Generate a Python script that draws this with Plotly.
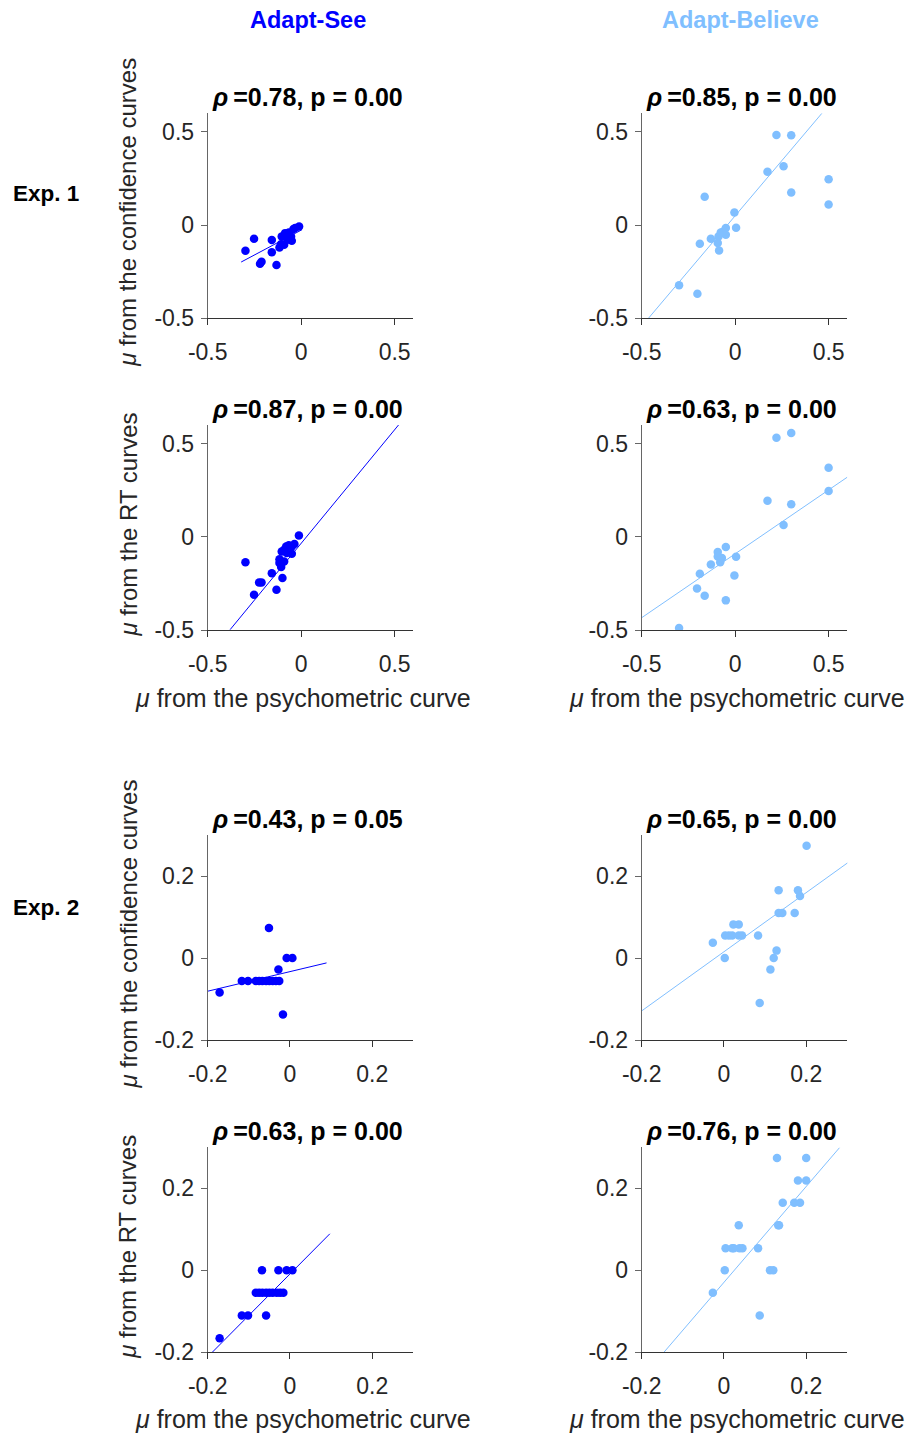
import plotly.graph_objects as go

W, H = 920, 1433
PAGE_OFFSET = 8  # the page body margin shifts the figure by 8 px

# ---------------- data ----------------
# Exp. 1, Adapt-See, confidence
e1_see_conf_x = [-0.298, -0.252, -0.220, -0.212, -0.157, -0.157, -0.132, -0.116, -0.107, -0.104,
                 -0.091, -0.086, -0.080, -0.073, -0.066, -0.054, -0.050, -0.041, -0.032, -0.011]
e1_see_conf_y = [-0.137, -0.073, -0.207, -0.196, -0.080, -0.145, -0.214, -0.120, -0.102, -0.061,
                 -0.105, -0.043, -0.061, -0.079, -0.039, -0.061, -0.084, -0.021, -0.016, -0.007]
# Exp. 1, Adapt-Believe, confidence
e1_bel_conf_x = [-0.300, -0.202, -0.189, -0.163, -0.130, -0.093, -0.086, -0.089, -0.077, -0.063,
                 -0.050, -0.050, -0.004, 0.005, 0.173, 0.221, 0.259, 0.300, 0.300, 0.500, 0.500]
e1_bel_conf_y = [-0.323, -0.368, -0.100, 0.152, -0.073, -0.096, -0.136, -0.061, -0.039, -0.034,
                 -0.016, -0.052, 0.068, -0.014, 0.286, 0.484, 0.316, 0.482, 0.175, 0.246, 0.111]
# Exp. 1, Adapt-See, RT
e1_see_rt_x = [-0.298, -0.252, -0.225, -0.212, -0.157, -0.132, -0.116, -0.116, -0.107, -0.100,
               -0.104, -0.091, -0.091, -0.080, -0.077, -0.066, -0.050, -0.050, -0.036, -0.012]
e1_see_rt_y = [-0.137, -0.311, -0.245, -0.245, -0.195, -0.284, -0.120, -0.141, -0.162, -0.221,
               -0.079, -0.132, -0.070, -0.052, -0.087, -0.045, -0.052, -0.091, -0.039, 0.007]
# Exp. 1, Adapt-Believe, RT
e1_bel_rt_x = [-0.300, -0.204, -0.189, -0.163, -0.130, -0.093, -0.093, -0.080, -0.071, -0.050,
               -0.050, -0.004, 0.005, 0.173, 0.221, 0.259, 0.300, 0.300, 0.500, 0.500]
e1_bel_rt_y = [-0.489, -0.277, -0.198, -0.316, -0.148, -0.082, -0.105, -0.136, -0.114, -0.055,
               -0.341, -0.207, -0.107, 0.193, 0.532, 0.063, 0.557, 0.175, 0.370, 0.246]
# Exp. 2, Adapt-See, confidence
e2_see_conf_x = [-0.171, -0.117, -0.102, -0.083, -0.075, -0.067, -0.058, -0.050, -0.042, -0.034,
                 -0.026, -0.051, -0.028, -0.017, -0.008, 0.006]
e2_see_conf_y = [-0.084, -0.056, -0.056, -0.056, -0.056, -0.056, -0.056, -0.056, -0.056, -0.056,
                 -0.056, 0.073, -0.028, -0.138, 0.000, 0.000]
# Exp. 2, Adapt-Believe, confidence
e2_bel_conf_x = [-0.027, 0.002, 0.003, 0.012, 0.020, 0.023, 0.036, 0.036, 0.044, 0.083, 0.087,
                 0.113, 0.121, 0.128, 0.133, 0.133, 0.142, 0.172, 0.180, 0.185, 0.201]
e2_bel_conf_y = [0.037, 0.000, 0.055, 0.055, 0.055, 0.082, 0.082, 0.055, 0.055, 0.055, -0.110,
                 -0.028, 0.000, 0.018, 0.165, 0.110, 0.110, 0.110, 0.165, 0.151, 0.274]
# Exp. 2, Adapt-See, RT
e2_see_rt_x = [-0.171, -0.117, -0.102, -0.083, -0.075, -0.067, -0.068, -0.058, -0.058, -0.050,
               -0.042, -0.032, -0.028, -0.024, -0.016, -0.008, 0.006]
e2_see_rt_y = [-0.166, -0.110, -0.110, -0.055, -0.055, -0.055, 0.000, -0.055, -0.110, -0.055,
               -0.055, -0.055, 0.000, -0.055, -0.055, 0.000, 0.000]
# Exp. 2, Adapt-Believe, RT
e2_bel_rt_x = [-0.027, 0.002, 0.004, 0.020, 0.024, 0.036, 0.038, 0.045, 0.083, 0.087, 0.112,
               0.120, 0.129, 0.132, 0.134, 0.143, 0.171, 0.180, 0.185, 0.200, 0.200]
e2_bel_rt_y = [-0.055, 0.000, 0.054, 0.054, 0.054, 0.110, 0.054, 0.054, 0.054, -0.110, 0.000,
               0.000, 0.274, 0.110, 0.110, 0.165, 0.165, 0.219, 0.165, 0.274, 0.219]

# fitted regression-line end points (as drawn)
fit_x = [[-0.321, 0.004], [-0.464, 0.464], [-0.380, 0.521], [-0.500, 0.600],
         [-0.200, 0.089], [-0.200, 0.302], [-0.189, 0.097], [-0.146, 0.281]]
fit_y = [[-0.198, -0.025], [-0.500, 0.600], [-0.498, 0.600], [-0.434, 0.320],
         [-0.081, -0.012], [-0.129, 0.233], [-0.200, 0.089], [-0.200, 0.299]]

rho_vals = ["0.78", "0.85", "0.87", "0.63", "0.43", "0.65", "0.63", "0.76"]
p_vals = ["0.00", "0.00", "0.00", "0.00", "0.05", "0.00", "0.00", "0.00"]

column_names = ["Adapt-See", "Adapt-Believe"]
row_names = ["Exp. 1", "Exp. 2"]
ylabels = ["from the confidence curves", "from the RT curves"]
xlabel = "from the psychometric curve"

exp1_ticks = [-0.5, 0, 0.5]
exp1_ticktext = ["-0.5", "0", "0.5"]
exp2_ticks = [-0.2, 0, 0.2]
exp2_ticktext = ["-0.2", "0", "0.2"]

# ---------------- styling ----------------
see_color = "#0000FF"
bel_color = "#80BFFF"
txt_color = "#262626"
FONT = "Liberation Sans, Arial, Helvetica, sans-serif"

panels = [
    (e1_see_conf_x, e1_see_conf_y, see_color),
    (e1_bel_conf_x, e1_bel_conf_y, bel_color),
    (e1_see_rt_x, e1_see_rt_y, see_color),
    (e1_bel_rt_x, e1_bel_rt_y, bel_color),
    (e2_see_conf_x, e2_see_conf_y, see_color),
    (e2_bel_conf_x, e2_bel_conf_y, bel_color),
    (e2_see_rt_x, e2_see_rt_y, see_color),
    (e2_bel_rt_x, e2_bel_rt_y, bel_color),
]

# panel pixel boxes (screen coordinates)
col_px = [(207.7, 413.3), (641.7, 847.3)]
row_px = [(113.3, 318.3), (425.0, 630.0), (835.0, 1040.0), (1147.3, 1352.3)]


def xp(px):
    return (px - PAGE_OFFSET) / W


def yp(py):
    return 1 - (py - PAGE_OFFSET) / H


fig = go.Figure()
layout = dict(
    width=W, height=H,
    autosize=False,
    margin=dict(l=0, r=0, t=0, b=0, pad=0, autoexpand=False),
    paper_bgcolor="white", plot_bgcolor="white",
    showlegend=False,
    font=dict(family=FONT, color=txt_color),
)
annotations = []

for i, (xs, ys, col) in enumerate(panels):
    r, c = divmod(i, 2)
    n = i + 1
    xa = "x" if n == 1 else f"x{n}"
    ya = "y" if n == 1 else f"y{n}"
    fig.add_trace(go.Scatter(x=xs, y=ys, mode="markers", xaxis=xa, yaxis=ya,
                             marker=dict(size=8.5, color=col, line=dict(width=0)),
                             hoverinfo="skip"))
    fig.add_trace(go.Scatter(x=fit_x[i], y=fit_y[i], mode="lines", xaxis=xa, yaxis=ya,
                             line=dict(color=col, width=1), hoverinfo="skip"))
    if r < 2:
        rng = [-0.5, 0.6]
        tv, tt = exp1_ticks, exp1_ticktext
    else:
        rng = [-0.2, 0.3]
        tv, tt = exp2_ticks, exp2_ticktext
    x0, x1 = col_px[c]
    y0, y1 = row_px[r]
    common = dict(range=rng, tickvals=tv, ticktext=tt, showgrid=False, zeroline=False,
                  showline=True, linewidth=1, ticks="outside", ticklen=6, tickwidth=1,
                  tickfont=dict(size=23, color=txt_color, family=FONT), mirror=False,
                  fixedrange=True, automargin=False)
    layout["xaxis" if n == 1 else f"xaxis{n}"] = dict(
        domain=[xp(x0), xp(x1)], anchor=ya, linecolor="#333333", tickcolor="#333333",
        ticklabelstandoff=7, **common)
    layout["yaxis" if n == 1 else f"yaxis{n}"] = dict(
        domain=[yp(y1), yp(y0)], anchor=xa, linecolor="#666666", tickcolor="#666666",
        ticklabelstandoff=2, **common)
    # panel title
    annotations.append(dict(
        x=xp((x0 + x1) / 2 - 3), y=yp(y0 - 16), xref="paper", yref="paper",
        text="<b><i>ρ</i>\u2009=" + rho_vals[i] + ", p = " + p_vals[i] + "</b>",
        showarrow=False, xanchor="center", yanchor="middle",
        font=dict(size=25, color="black", family=FONT)))

# column headers
annotations.append(dict(x=xp(308), y=yp(20), xref="paper", yref="paper",
                        text="<b>" + column_names[0] + "</b>", showarrow=False,
                        xanchor="center", yanchor="middle",
                        font=dict(size=23.5, color=see_color, family=FONT)))
annotations.append(dict(x=xp(740), y=yp(20), xref="paper", yref="paper",
                        text="<b>" + column_names[1] + "</b>", showarrow=False,
                        xanchor="center", yanchor="middle",
                        font=dict(size=23.5, color=bel_color, family=FONT)))
# row labels
for lab, py in zip(row_names, [193, 907]):
    annotations.append(dict(x=xp(46), y=yp(py), xref="paper", yref="paper",
                            text="<b>" + lab + "</b>", showarrow=False,
                            xanchor="center", yanchor="middle",
                            font=dict(size=22.5, color="black", family=FONT)))
# y axis titles (left column only)
for r in range(4):
    y0, y1 = row_px[r]
    annotations.append(dict(x=xp(128), y=yp((y0 + y1) / 2 - 3), xref="paper", yref="paper",
                            text="<i>μ</i> " + ylabels[r % 2], textangle=-90,
                            showarrow=False, xanchor="center", yanchor="middle",
                            font=dict(size=24, color=txt_color, family=FONT)))
# x axis titles
for r, py in [(1, 698), (3, 1419)]:
    for c in range(2):
        x0, x1 = col_px[c]
        annotations.append(dict(x=xp((x0 + x1) / 2 - 8), y=yp(py), xref="paper", yref="paper",
                                text="<i>μ</i> " + xlabel, showarrow=False,
                                xanchor="center", yanchor="middle",
                                font=dict(size=25, color=txt_color, family=FONT)))

layout["annotations"] = annotations
fig.update_layout(**layout)
fig.write_html("out.html")
